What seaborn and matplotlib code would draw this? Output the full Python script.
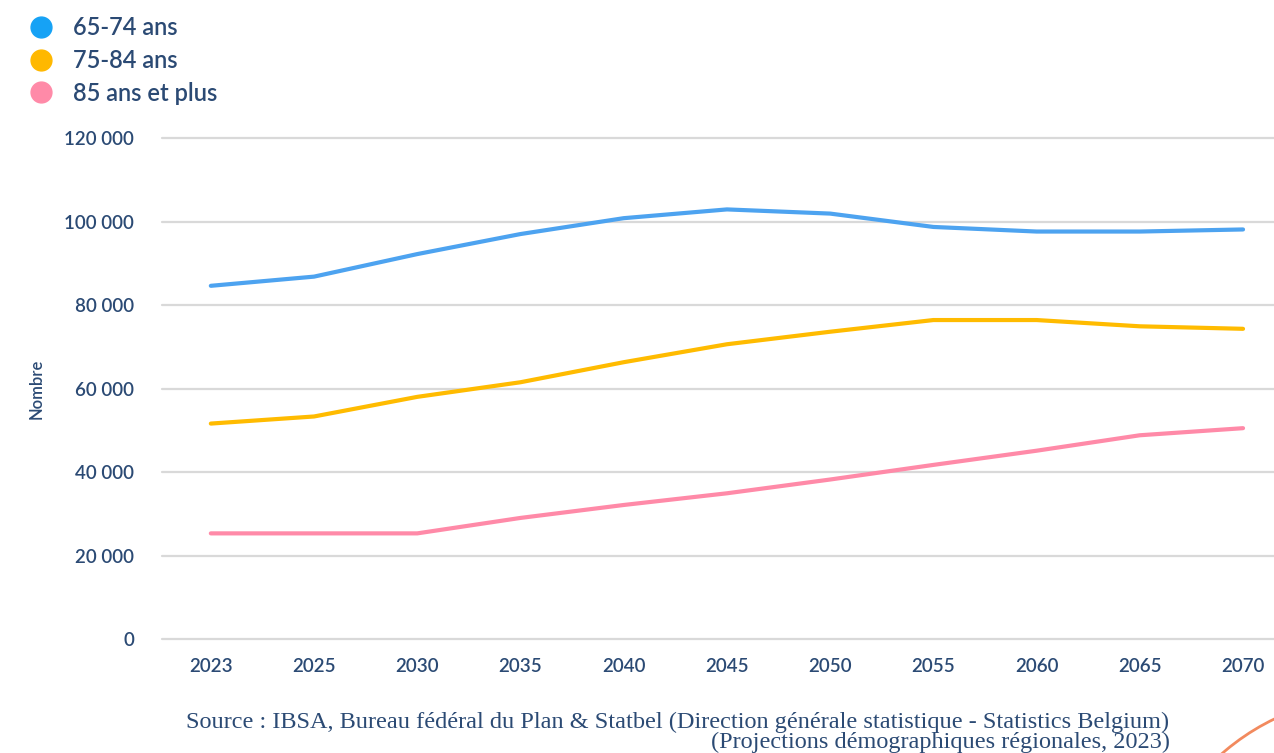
import matplotlib
matplotlib.use("Agg")
import matplotlib.pyplot as plt
from matplotlib.lines import Line2D
from matplotlib.patches import Arc
import seaborn as sns
import pandas as pd

years = ["2023", "2025", "2030", "2035", "2040", "2045", "2050", "2055", "2060", "2065", "2070"]
age_65_74 = [84600, 86800, 92200, 97000, 100800, 102900, 101900, 98700, 97600, 97600, 98100]
age_75_84 = [51600, 53300, 58000, 61500, 66300, 70600, 73600, 76400, 76400, 74900, 74300]
age_85_plus = [25300, 25300, 25300, 29000, 32100, 34900, 38200, 41700, 45100, 48800, 50500]
series_names = ["65-74 ans", "75-84 ans", "85 ans et plus"]
y_ticks = [0, 20000, 40000, 60000, 80000, 100000, 120000]
y_tick_labels = ["0", "20 000", "40 000", "60 000", "80 000", "100 000", "120 000"]

line_colors = ["#4da3f0", "#ffbb00", "#ff8aa8"]
dot_colors = ["#16a2f5", "#ffb800", "#ff8aa8"]
navy = "#2b4a74"

rows = []
for name, vals in zip(series_names, [age_65_74, age_75_84, age_85_plus]):
    for i, (yr, v) in enumerate(zip(years, vals)):
        rows.append({"idx": i, "Année": yr, "Nombre": v, "Groupe": name})
df = pd.DataFrame(rows)

sns.set_theme(style="white")
plt.rcParams["font.family"] = ["Lato", "DejaVu Sans"]

fig = plt.figure(figsize=(12.74, 7.53), dpi=100)
ax = fig.add_axes([0.127, 0.1514, 0.873, 0.6653])

sns.lineplot(data=df, x="idx", y="Nombre", hue="Groupe", palette=line_colors,
             linewidth=3, legend=False, ax=ax, solid_capstyle="round")

ax.set_xlim(-0.475, 10.3)
ax.set_ylim(0, 120000)
ax.set_yticks(y_ticks)
ax.set_yticklabels(y_tick_labels)
ax.set_xticks(range(len(years)))
ax.set_xticklabels(years)
for y in y_ticks:
    ax.axhline(y, color="#d9d9d9", linewidth=1.6, zorder=0, clip_on=False)
for s in ax.spines.values():
    s.set_visible(False)
ax.tick_params(axis="y", length=0, pad=20, labelsize=13.5, labelcolor=navy)
ax.tick_params(axis="x", length=0, pad=14, labelsize=13.5, labelcolor=navy)
for lab in ax.get_xticklabels() + ax.get_yticklabels():
    lab.set_fontweight("semibold")
ax.set_xlabel("")
ax.set_ylabel("Nombre", color=navy, fontsize=12, labelpad=14, fontweight="semibold")

handles = [Line2D([0], [0], marker="o", linestyle="", markersize=15,
                  markerfacecolor=c, markeredgecolor=c) for c in dot_colors]
leg = fig.legend(handles, series_names, loc="upper left", bbox_to_anchor=(0.006, 1.004),
                 frameon=False, fontsize=17, labelcolor=navy, handletextpad=0.75,
                 labelspacing=0.42, borderaxespad=0.4, handlelength=1.2)
for t in leg.get_texts():
    t.set_fontweight("semibold")

fig.text(0.918, 0.055, "Source : IBSA, Bureau fédéral du Plan & Statbel (Direction générale statistique - Statistics Belgium)\n(Projections démographiques régionales, 2023)",
         ha="right", va="top", fontsize=17.5, color=navy, family="Liberation Serif",
         multialignment="right", linespacing=0.95)

arc = Arc((1375 / 1274, -175 / 753), 2 * 232 / 1274, 2 * 232 / 753, angle=0,
          theta1=100, theta2=140, transform=fig.transFigure, color="#f28a5e", linewidth=2)
fig.add_artist(arc)

fig.savefig("out.png", dpi=100, facecolor="white")
